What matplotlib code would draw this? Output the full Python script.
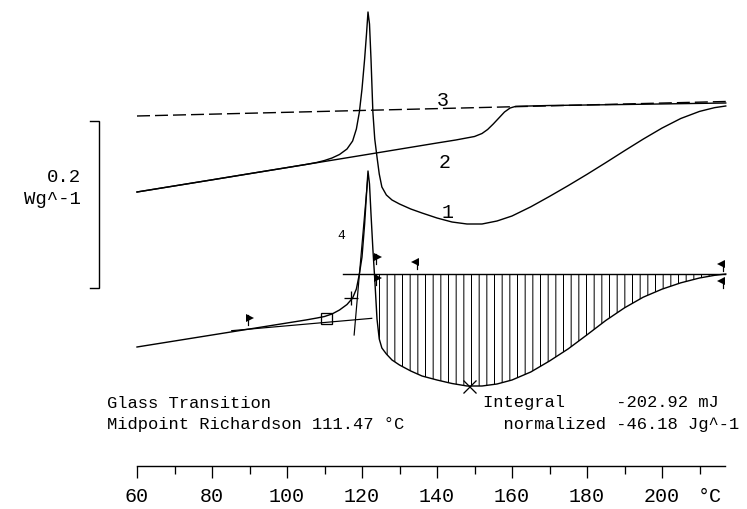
import numpy as np
import matplotlib
matplotlib.use("Agg")
import matplotlib.pyplot as plt

DPI = 92.4
W, H = 747, 510


def px(n):
    """Pixel length to points at the figure dpi."""
    return n * 72.0 / DPI


plt.rcParams["font.family"] = ["Liberation Mono", "DejaVu Sans Mono"]
plt.rcParams["lines.scale_dashes"] = False
plt.rcParams["hatch.color"] = "black"
plt.rcParams["hatch.linewidth"] = px(1.0)

# ---- DSC runs (temperature in °C, heat flow in W/g, curves offset) ----
temp_run = [60, 70, 80, 90, 100, 105, 108, 110, 112, 114, 116, 117.5, 118.5,
            119.3, 120, 120.7, 121.2, 121.6, 122, 122.4, 122.9, 123.4, 124,
            124.6, 125.3, 126.5, 128, 130, 133, 136, 140, 144, 148, 152, 156,
            160, 165, 170, 175, 180, 185, 190, 195, 200, 205, 210, 214, 217]

# curve 1: first heating
heat_1 = [0.1152, 0.1225, 0.1298, 0.1372, 0.1445, 0.1482, 0.1507, 0.1530,
          0.1560, 0.1602, 0.1668, 0.1764, 0.1908, 0.2112, 0.2388, 0.2748,
          0.3048, 0.3312, 0.3168, 0.2748, 0.2112, 0.1788, 0.1572, 0.1368,
          0.1212, 0.1116, 0.1056, 0.1008, 0.0948, 0.0900, 0.0840, 0.0792,
          0.0768, 0.0768, 0.0804, 0.0864, 0.0974, 0.1099, 0.1229, 0.1364,
          0.1504, 0.1647, 0.1787, 0.1919, 0.2034, 0.2119, 0.2164, 0.2184]

# curve 4: evaluated run with integration baseline
heat_4 = [-0.0708, -0.0636, -0.0564, -0.0492, -0.0420, -0.0384, -0.0360,
          -0.0342, -0.0312, -0.0264, -0.0198, -0.0120, -0.0012, 0.0168,
          0.0372, 0.0768, 0.1128, 0.1404, 0.1248, 0.0888, 0.0468, 0.0108,
          -0.0372, -0.0612, -0.0720, -0.0792, -0.0864, -0.0924, -0.0996,
          -0.1056, -0.1104, -0.1146, -0.1176, -0.1176, -0.1152, -0.1104,
          -0.1008, -0.0876, -0.0730, -0.0562, -0.0390, -0.0238, -0.0110,
          -0.0014, 0.0062, 0.0120, 0.0152, 0.0168]

# curve 2: second heating
temp_2 = [60, 80, 100, 120, 130, 140, 145, 150, 152, 153.5, 155, 156.5, 158,
          159.5, 161, 170, 190, 217]
heat_2 = [0.1152, 0.1298, 0.1445, 0.1592, 0.1666, 0.1740, 0.1776, 0.1818,
          0.1854, 0.1902, 0.1968, 0.2040, 0.2112, 0.2160, 0.2180, 0.2190,
          0.2202, 0.2220]

# curve 3: third heating (dashed)
temp_3 = [60, 217]
heat_3 = [0.2064, 0.2238]

# evaluation of curve 4
integral_level = 0.0168
integral_span = [114.9, 216.8]
integral_start = 123.4
tg_baseline_temp = [85.25, 122.6]
tg_baseline_heat = [-0.0512, -0.0364]
tg_tangent_temp = [117.9, 121.5]
tg_tangent_heat = [-0.0564, 0.1300]
tg_onset = (110.4, -0.0360)
tg_midpoint = (117.1, -0.0120)
peak_point = (148.5, -0.1176)
flag_temp = [89.6, 123.6, 123.6, 134.7, 216.3, 216.3]
flag_heat = [-0.0380, 0.0348, 0.0096, 0.0288, 0.0264, 0.0060]
flag_dir = [">", ">", ">", "<", "<", "<"]

curve_labels = ["1", "2", "3", "4"]
curve_label_temp = [142.9, 142.1, 141.6, 114.4]
curve_label_heat = [0.0924, 0.1512, 0.2268, 0.0636]

scale_bar = 0.2  # W/g

tick_values = [60, 80, 100, 120, 140, 160, 180, 200]
tick_labels = ["60", "80", "100", "120", "140", "160", "180", "200"]
minor_values = [70, 90, 110, 130, 150, 170, 190, 210]
unit_label_temp = 212.8

# ---- figure ----
fig = plt.figure(figsize=(W / DPI, H / DPI), dpi=DPI)
fig.patch.set_facecolor("white")
ax = fig.add_axes([0, 0, 1, 1])
ax.set_xlim(60 - 137 / 3.75, 60 + 610 / 3.75)
ax.set_ylim(-221 * 0.0012, 289 * 0.0012)
ax.axis("off")

lw = px(1.4)
k = "black"
t_run = np.array(temp_run)
h4 = np.array(heat_4)

ax.plot(temp_run, heat_1, color=k, lw=lw)
ax.plot(temp_2, heat_2, color=k, lw=lw)
ax.plot(temp_3, heat_3, color=k, lw=lw, dashes=(px(13), px(5)))
ax.plot(temp_run, heat_4, color=k, lw=lw)

# integration area
ax.fill_between(t_run, h4, integral_level, where=t_run >= integral_start,
                interpolate=True, facecolor="none", edgecolor=k,
                hatch="||", linewidth=0)
ax.plot(integral_span, [integral_level, integral_level], color=k, lw=lw)

# glass transition construction
ax.plot(tg_baseline_temp, tg_baseline_heat, color=k, lw=px(1.2))
ax.plot(tg_tangent_temp, tg_tangent_heat, color=k, lw=px(1.2))
ax.plot(*tg_onset, marker="s", ms=px(11), mfc="none", mec=k, mew=px(1.3))
ax.plot(*tg_midpoint, marker="+", ms=px(14), mec=k, mew=px(1.3))
ax.plot(*peak_point, marker="x", ms=px(13), mec=k, mew=px(1.3))

# limit flags
for t, h, d in zip(flag_temp, flag_heat, flag_dir):
    dx = 0.6 if d == ">" else -0.6
    ax.plot([t, t], [h - 0.006, h + 0.006], color=k, lw=px(1.2))
    ax.plot(t + dx, h + 0.002, marker=d, ms=px(8), color=k, mew=0)

for lab, t, h in zip(curve_labels, curve_label_temp, curve_label_heat):
    ax.text(t, h, lab, fontsize=px(13 if lab == "4" else 20),
            ha="center", va="center", color=k)

# scale bar
bar_t = 60 + (99 - 137) / 3.75
tick_t = 60 + (90 - 137) / 3.75
ax.plot([tick_t, bar_t, bar_t, tick_t], [scale_bar, scale_bar, 0, 0],
        color=k, lw=px(1.4), solid_joinstyle="miter")
text_t = 60 + (81 - 137) / 3.75
ax.text(text_t, 0.1344, f"{scale_bar:.1f}", fontsize=px(19), ha="right",
        va="center")
ax.text(text_t, 0.1080, "Wg^-1", fontsize=px(19), ha="right", va="center")

# result annotations
note_fs = px(17.2)
left_t = 60 + (107 - 137) / 3.75
right_t = 60 + (483 - 137) / 3.75
ax.text(left_t, -0.1368, "Glass Transition", fontsize=note_fs, va="center")
ax.text(left_t, -0.1620, "Midpoint Richardson 111.47 °C", fontsize=note_fs,
        va="center")
ax.text(right_t, -0.1368, "Integral     -202.92 mJ", fontsize=note_fs,
        va="center")
ax.text(right_t, -0.1620, "  normalized -46.18 Jg^-1", fontsize=note_fs,
        va="center")

# temperature axis
tick_len, tick_pad, tick_fs = px(12), px(8), px(20)
axx = fig.add_axes([137 / W, (H - 467) / H, (725 - 137) / W, 1e-4])
axx.set_xlim(60, 60 + (725 - 137) / 3.75)
axx.patch.set_visible(False)
for s in ["top", "left", "right"]:
    axx.spines[s].set_visible(False)
axx.spines["bottom"].set_linewidth(px(1.4))
axx.set_yticks([])
axx.set_xticks(tick_values)
axx.set_xticklabels(tick_labels)
axx.set_xticks(minor_values, minor=True)
axx.tick_params(which="major", direction="out", length=tick_len,
                width=px(1.3), pad=tick_pad, labelsize=tick_fs)
axx.tick_params(which="minor", direction="out", length=px(8), width=px(1.3))
axx.annotate("°C", xy=(unit_label_temp, 0),
             xycoords=axx.get_xaxis_transform(),
             xytext=(0, -(tick_len + tick_pad)), textcoords="offset points",
             ha="center", va="top", fontsize=tick_fs)

fig.savefig("out.png", dpi=DPI, facecolor="white")
